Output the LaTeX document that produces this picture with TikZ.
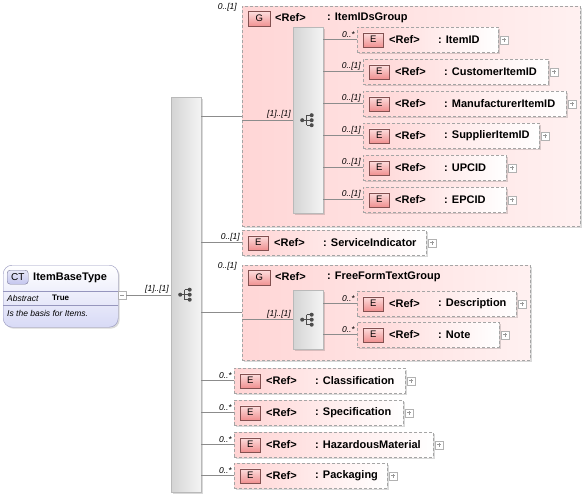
\documentclass[tikz,border=0pt]{standalone}
\usepackage{fontspec}
\setmainfont{Liberation Sans}
\definecolor{elpink}{RGB}{255, 212, 212}
\definecolor{grppink}{RGB}{255, 214, 214}
\definecolor{badgetop}{RGB}{253, 222, 222}
\definecolor{badgebot}{RGB}{240, 146, 146}
\definecolor{badgeline}{RGB}{130, 80, 80}
\definecolor{dashgray}{RGB}{165, 165, 165}
\definecolor{linegray}{RGB}{140, 140, 140}
\definecolor{seqgray}{RGB}{212, 212, 212}
\definecolor{ctlav}{RGB}{216, 218, 246}
\definecolor{ctline}{RGB}{150, 150, 190}
\definecolor{ctbadge}{RGB}{196, 198, 238}
\usepackage{tikz}
\usetikzlibrary{shadows}

\tikzset{
  conn/.style={draw=linegray, line width=0.7pt},
  multtxt/.style={inner sep=0pt, font=\fontsize{8.5}{9}\selectfont\itshape},
  mult/.style={multtxt, anchor=south east, xshift=-2pt, yshift=1.5pt},
  gmult/.style={multtxt, anchor=east, xshift=-5pt, yshift=-1pt},
  ebadge/.style={anchor=west, xshift=6pt, draw=badgeline, top color=badgetop, bottom color=badgebot, minimum width=20pt, minimum height=14pt, inner sep=0pt, font=\fontsize{9.5}{10}\selectfont},
  gbadge/.style={ebadge, anchor=north west, yshift=-5pt, minimum width=22pt, minimum height=15pt},
  txt/.style={anchor=west, inner sep=0pt, font=\fontsize{11}{12}\selectfont\bfseries},
  reftxt/.style={txt, xshift=32pt},
  nametxt/.style={txt, xshift=81pt},
  gref/.style={txt, xshift=33pt, yshift=-12pt},
  gname/.style={txt, xshift=85pt, yshift=-12pt},
  plusbox/.style={anchor=west, xshift=1.5pt, draw=gray!60, fill=white, minimum size=8pt, inner sep=0pt,
    path picture={\draw[gray!80, line width=0.5pt]
      ([xshift=2pt]path picture bounding box.west) -- ([xshift=-2pt]path picture bounding box.east)
      ([yshift=2pt]path picture bounding box.south) -- ([yshift=-2pt]path picture bounding box.north);}},
  shade/.style={drop shadow={shadow xshift=1.5pt, shadow yshift=-1.5pt, fill=black, opacity=0.15}},
  elem/.style={draw=dashgray, dash pattern=on 3pt off 2pt, left color=elpink, right color=white, shade,
    minimum height=25pt, inner sep=0pt, anchor=north west,
    label={[ebadge]west:E}, label={[reftxt]west:<Ref>}, label={[plusbox]east:{}}},
  grp/.style={draw=dashgray, dash pattern=on 3pt off 2pt, left color=grppink, right color=grppink!35!white, shade,
    inner sep=0pt, anchor=north west,
    label={[gbadge]north west:G}, label={[gref]north west:<Ref>}},
  seqbox/.style={draw=gray!55, left color=seqgray, right color=white!96!black, shade,
    minimum width=30pt, inner sep=0pt, anchor=north west,
    path picture={
      \coordinate (ic) at (path picture bounding box.center);
      \draw[black!70, line width=0.8pt]
        ([xshift=-6pt]ic) -- ([xshift=-1.5pt]ic)
        ([xshift=-1.5pt, yshift=5pt]ic) -- ([xshift=-1.5pt, yshift=-5pt]ic)
        ([xshift=-1.5pt, yshift=5pt]ic) -- ([xshift=3.5pt, yshift=5pt]ic)
        ([xshift=-1.5pt]ic) -- ([xshift=3.5pt]ic)
        ([xshift=-1.5pt, yshift=-5pt]ic) -- ([xshift=3.5pt, yshift=-5pt]ic);
      \fill[black!70]
        ([xshift=-6pt]ic) circle[radius=2pt]
        ([xshift=3.5pt, yshift=5pt]ic) circle[radius=2pt]
        ([xshift=3.5pt]ic) circle[radius=2pt]
        ([xshift=3.5pt, yshift=-5pt]ic) circle[radius=2pt];}},
  ctcard/.style={draw=ctline, rounded corners=9pt, top color=white, bottom color=ctlav, shade,
    minimum width=115pt, minimum height=62pt, inner sep=0pt, anchor=north west},
  ctbadgebox/.style={anchor=north west, xshift=4pt, yshift=-5pt, draw=ctline!80!black, rounded corners=3pt,
    top color=ctbadge!40!white, bottom color=ctbadge, minimum width=21pt, minimum height=14pt, inner sep=0pt,
    font=\fontsize{10}{11}\selectfont},
  minusbox/.style={draw=gray!60, fill=white, minimum size=8pt, inner sep=0pt,
    path picture={\draw[gray!80, line width=0.5pt]
      ([xshift=2pt]path picture bounding box.west) -- ([xshift=-2pt]path picture bounding box.east);}}
}

\begin{document}
\begin{tikzpicture}[x=1pt, y=-1pt]
  \useasboundingbox (0,0) rectangle (586,496);

  % Complex type
  \node[ctcard, label={[ctbadgebox]north west:CT}] (ctbox) at (3,265) {};
  \node[anchor=west, inner sep=0pt, font=\fontsize{11}{12}\selectfont\bfseries] (cttitle) at (33,277.5) {ItemBaseType};
  \draw[ctline] ([yshift=-26pt]ctbox.north west) -- ([yshift=-26pt]ctbox.north east);
  \draw[ctline] ([yshift=-40pt]ctbox.north west) -- ([yshift=-40pt]ctbox.north east);
  \node[anchor=west, inner sep=0pt, font=\fontsize{8.5}{10}\selectfont\itshape] (ctabs) at (7,298) {Abstract};
  \node[anchor=west, inner sep=0pt, font=\fontsize{8}{10}\selectfont\bfseries] (ctabsval) at (52,298) {True};
  \node[anchor=west, inner sep=0pt, font=\fontsize{8.5}{10}\selectfont\itshape] (ctdoc) at (7,313) {Is the basis for Items.};
  \node[minusbox] (ctminus) at (122,295.5) {};

  % Main sequence
  \node[seqbox, minimum height=395pt, label={[mult]west:[1]..[1]}] (mainseq) at (171,97) {};

  % ItemIDsGroup
  \node[grp, minimum width=338pt, minimum height=220pt, label={[gmult]north west:0..[1]},
    label={[gname]north west:{: ItemIDsGroup}}] (grpa) at (242,6) {};
  \node[seqbox, minimum height=186pt, label={[mult]west:[1]..[1]}] (seqa) at (293,27) {};
  \node[elem, minimum width=141pt, label={[mult]west:0..*}, label={[nametxt]west:{: ItemID}}] (itemid) at (357,27) {};
  \node[elem, minimum width=185pt, label={[mult]west:0..[1]}, label={[nametxt]west:{: CustomerItemID}}] (custitemid) at (363,59) {};
  \node[elem, minimum width=203pt, label={[mult]west:0..[1]}, label={[nametxt]west:{: ManufacturerItemID}}] (manuitemid) at (363,91) {};
  \node[elem, minimum width=176pt, label={[mult]west:0..[1]}, label={[nametxt]west:{: SupplierItemID}}] (suppitemid) at (363,123) {};
  \node[elem, minimum width=143pt, label={[mult]west:0..[1]}, label={[nametxt]west:{: UPCID}}] (upcid) at (363,155) {};
  \node[elem, minimum width=143pt, label={[mult]west:0..[1]}, label={[nametxt]west:{: EPCID}}] (epcid) at (363,187) {};

  \node[elem, minimum width=184pt, label={[mult]west:0..[1]}, label={[nametxt]west:{: ServiceIndicator}}] (servind) at (242,230) {};

  % FreeFormTextGroup
  \node[grp, minimum width=288pt, minimum height=95pt, label={[gmult]north west:0..[1]},
    label={[gname]north west:{: FreeFormTextGroup}}] (grpb) at (242,265) {};
  \node[seqbox, minimum height=59pt, label={[mult]west:[1]..[1]}] (seqb) at (293,290) {};
  \node[elem, minimum width=159pt, label={[mult]west:0..*}, label={[nametxt]west:{: Description}}] (descr) at (357,291) {};
  \node[elem, minimum width=142pt, label={[mult]west:0..*}, label={[nametxt]west:{: Note}}] (note) at (357,322) {};

  \node[elem, minimum width=171pt, label={[mult]west:0..*}, label={[nametxt]west:{: Classification}}] (classif) at (234,368) {};
  \node[elem, minimum width=169pt, label={[mult]west:0..*}, label={[nametxt]west:{: Specification}}] (specif) at (234,400) {};
  \node[elem, minimum width=199pt, label={[mult]west:0..*}, label={[nametxt]west:{: HazardousMaterial}}] (hazmat) at (234,432) {};
  \node[elem, minimum width=153pt, label={[mult]west:0..*}, label={[nametxt]west:{: Packaging}}] (packag) at (234,463) {};

  % Connectors
  \draw[conn] (ctminus.east) -- (ctminus.east -| mainseq.west);
  \foreach \el in {grpa, servind, grpb, classif, specif, hazmat, packag}
    \draw[conn] (\el.west) -- (\el.west -| mainseq.east);
  \draw[conn] (seqa.west) -- (seqa.west -| grpa.west);
  \draw[conn] (seqb.west) -- (seqb.west -| grpb.west);
  \foreach \el in {itemid, custitemid, manuitemid, suppitemid, upcid, epcid}
    \draw[conn] (\el.west) -- (\el.west -| seqa.east);
  \foreach \el in {descr, note}
    \draw[conn] (\el.west) -- (\el.west -| seqb.east);
\end{tikzpicture}
\end{document}
